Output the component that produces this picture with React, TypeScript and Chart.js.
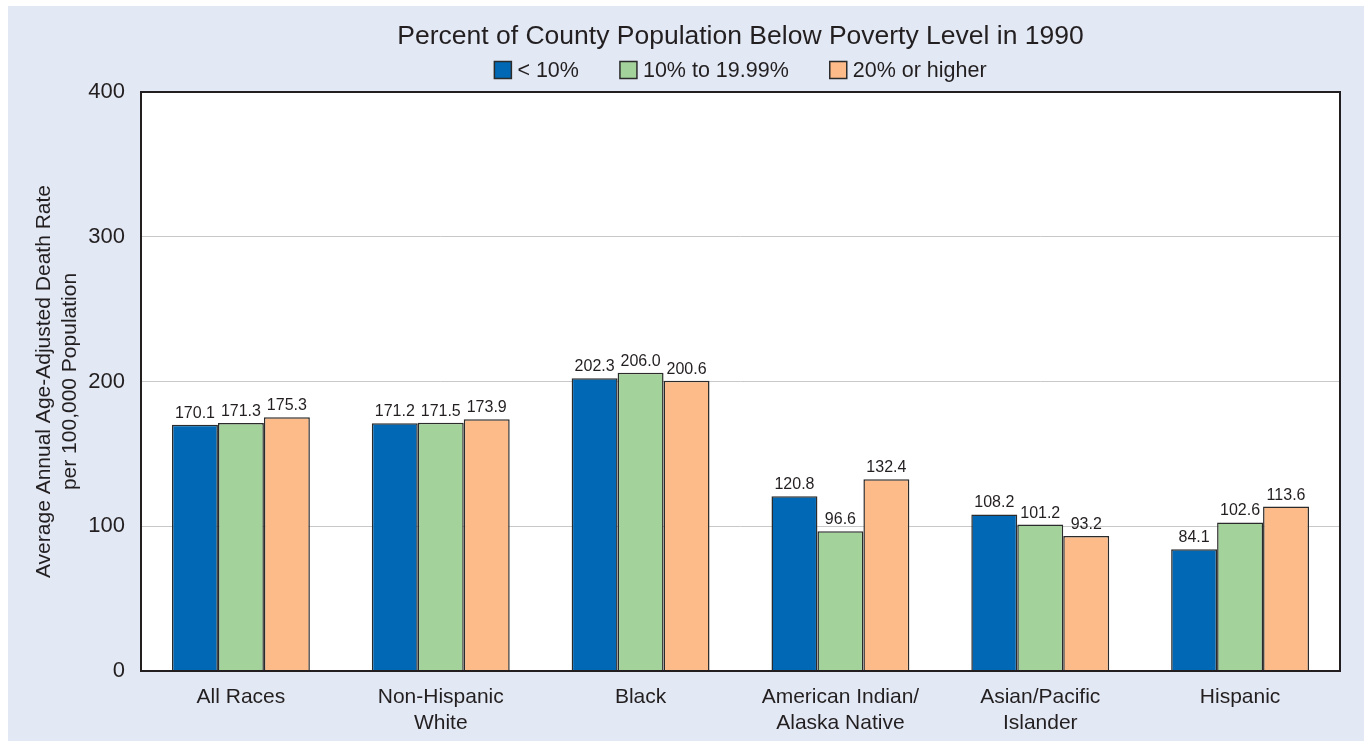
import React, { useEffect, useRef } from "react";
import { Chart, registerables } from "chart.js";

Chart.register(...registerables);

const categories: string[][] = [
  ["All Races"],
  ["Non-Hispanic", "White"],
  ["Black"],
  ["American Indian/", "Alaska Native"],
  ["Asian/Pacific", "Islander"],
  ["Hispanic"],
];
const seriesNames = ["< 10%", "10% to 19.99%", "20% or higher"];
const lowPoverty = [170.1, 171.2, 202.3, 120.8, 108.2, 84.1];
const midPoverty = [171.3, 171.5, 206.0, 96.6, 101.2, 102.6];
const highPoverty = [175.3, 173.9, 200.6, 132.4, 93.2, 113.6];
const yTicks = [0, 100, 200, 300, 400];

const titleText = "Percent of County Population Below Poverty Level in 1990";
const yTitle = ["Average Annual Age-Adjusted Death Rate", "per 100,000 Population"];

const FONT = "'Liberation Sans', Arial, Helvetica, sans-serif";
const TEXT = "#231f20";
const PAGE_BG = "#e2e8f4";
const COLORS = ["#0068b4", "#a3d29b", "#fcbb88"];
const BORDER = "#2b2b2b";

const backgroundPlugin = {
  id: "bgPlugin",
  beforeDraw(chart: any) {
    const { ctx, chartArea, width, height } = chart;
    ctx.save();
    ctx.fillStyle = PAGE_BG;
    ctx.fillRect(0, 0, width, height);
    ctx.fillStyle = "#ffffff";
    ctx.fillRect(chartArea.left, chartArea.top, chartArea.right - chartArea.left, chartArea.bottom - chartArea.top);
    ctx.restore();
  },
  afterDatasetsDraw(chart: any) {
    const { ctx, chartArea } = chart;
    ctx.save();
    ctx.font = `16px ${FONT}`;
    ctx.fillStyle = TEXT;
    ctx.textAlign = "center";
    ctx.textBaseline = "alphabetic";
    chart.data.datasets.forEach((ds: any, i: number) => {
      const meta = chart.getDatasetMeta(i);
      meta.data.forEach((el: any, j: number) => {
        const v = ds.data[j] as number;
        ctx.fillText(v.toFixed(1), el.x, el.y - 7);
      });
    });
    ctx.strokeStyle = TEXT;
    ctx.lineWidth = 2;
    ctx.strokeRect(chartArea.left, chartArea.top, chartArea.right - chartArea.left, chartArea.bottom - chartArea.top);
    ctx.restore();
  },
  afterDraw(chart: any) {
    const { ctx, chartArea } = chart;
    const box = 17;
    const gapText = 6;
    const gapItem = 41;
    ctx.save();
    ctx.font = `21.5px ${FONT}`;
    const items = chart.data.datasets.map((ds: any) => ({
      label: ds.label as string,
      color: ds.backgroundColor as string,
      w: box + gapText + ctx.measureText(ds.label).width,
    }));
    const total = items.reduce((s: number, it: any) => s + it.w, 0) + gapItem * (items.length - 1);
    let x = (chartArea.left + chartArea.right) / 2 - total / 2;
    const cy = 64;
    ctx.textBaseline = "middle";
    ctx.textAlign = "left";
    items.forEach((it: any) => {
      ctx.fillStyle = it.color;
      ctx.fillRect(x, cy - box / 2, box, box);
      ctx.strokeStyle = BORDER;
      ctx.lineWidth = 1.5;
      ctx.strokeRect(x, cy - box / 2, box, box);
      ctx.fillStyle = TEXT;
      ctx.fillText(it.label, x + box + gapText, cy + 1);
      x += it.w + gapItem;
    });
    ctx.restore();
  },
};

export default function App() {
  const ref = useRef<HTMLCanvasElement | null>(null);

  useEffect(() => {
    if (!ref.current) return;
    Chart.defaults.font.family = FONT;
    Chart.defaults.color = TEXT;
    const mk = (i: number, data: number[]) => ({
      label: seriesNames[i],
      data,
      backgroundColor: COLORS[i],
      borderColor: BORDER,
      borderWidth: 1.5,
      borderSkipped: "bottom" as const,
      categoryPercentage: 0.69,
      barPercentage: 1.0,
    });
    const chart = new Chart(ref.current, {
      type: "bar",
      data: {
        labels: categories,
        datasets: [mk(0, lowPoverty), mk(1, midPoverty), mk(2, highPoverty)],
      },
      options: {
        animation: false,
        responsive: true,
        maintainAspectRatio: false,
        layout: { padding: { left: 0, right: 24, top: 0, bottom: 0 } },
        plugins: {
          legend: { display: false },
          tooltip: { enabled: false },
          title: {
            display: true,
            text: titleText,
            fullSize: false,
            color: TEXT,
            font: { size: 26.5, weight: "normal", family: FONT, lineHeight: 1.2 },
            padding: { top: 15, bottom: 39.2 },
          },
        },
        scales: {
          x: {
            grid: { display: false, drawTicks: false },
            border: { display: false },
            ticks: {
              color: TEXT,
              font: { size: 21, family: FONT, lineHeight: 1.2 },
              padding: 14,
              maxRotation: 0,
              autoSkip: false,
            },
            afterFit(scale: any) {
              scale.height = 70;
            },
          },
          y: {
            min: 0,
            max: 400,
            afterBuildTicks(scale: any) {
              scale.ticks = yTicks.map((v) => ({ value: v }));
            },
            grid: { color: "#c8c8c8", lineWidth: 1, drawTicks: false },
            border: { display: false },
            ticks: {
              color: TEXT,
              font: { size: 22, family: FONT },
              padding: 16,
            },
            title: {
              display: true,
              text: yTitle,
              color: TEXT,
              font: { size: 21, family: FONT, lineHeight: 1.2 },
              padding: { top: 24, bottom: 0 },
            },
            afterFit(scale: any) {
              scale.width = 133;
            },
          },
        },
      },
      plugins: [backgroundPlugin],
    });
    return () => chart.destroy();
  }, []);

  return (
    <div
      style={{
        position: "fixed",
        left: 8,
        top: 6,
        width: 1356,
        height: 735,
        background: PAGE_BG,
      }}
    >
      <canvas ref={ref} />
    </div>
  );
}
